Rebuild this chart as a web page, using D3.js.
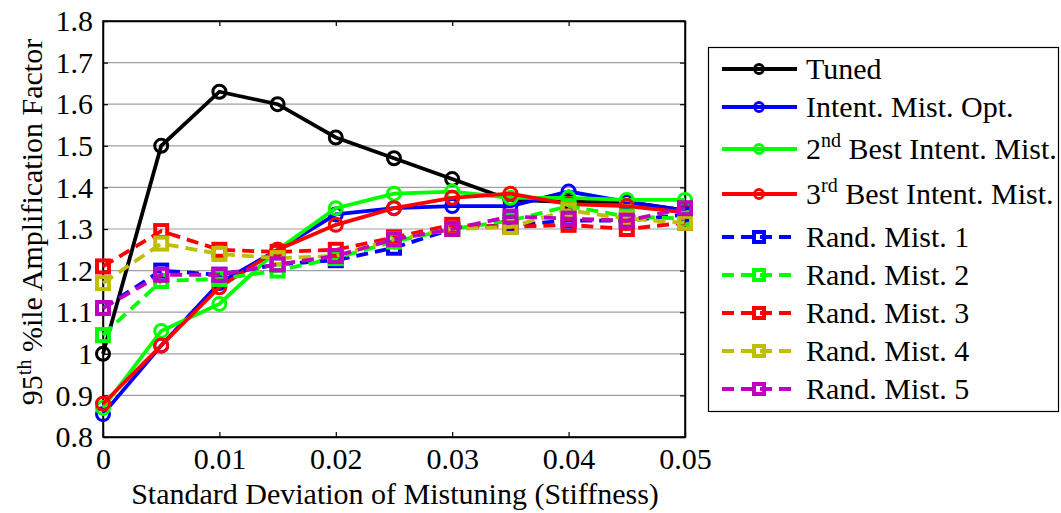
<!DOCTYPE html>
<html><head><meta charset="utf-8">
<script src="https://cdn.jsdelivr.net/npm/d3@7"></script>
<style>body{margin:0;background:#fff}svg{display:block}svg text{font-family:"Liberation Serif","Times New Roman",serif !important;fill:#000}</style>
</head><body><div id="c"></div>
<script>
const xValues = [0,0.005,0.01,0.015,0.02,0.025,0.03,0.035,0.04,0.045,0.05];
const tuned      = [1.00,1.50,1.63,1.60,1.52,1.47,1.42,1.37,1.365,1.365,1.345];
const intentOpt  = [0.855,1.02,1.17,1.25,1.335,1.35,1.355,1.355,1.39,1.365,1.345];
const best2      = [0.87,1.055,1.12,1.25,1.35,1.385,1.39,1.375,1.375,1.37,1.37];
const best3      = [0.88,1.02,1.16,1.25,1.31,1.35,1.375,1.385,1.36,1.355,1.34];
const rand1      = [1.11,1.20,1.19,1.215,1.225,1.255,1.30,1.31,1.32,1.32,1.335];
const rand2      = [1.045,1.175,1.18,1.20,1.23,1.27,1.30,1.32,1.355,1.33,1.325];
const rand3      = [1.21,1.295,1.25,1.245,1.25,1.28,1.31,1.305,1.31,1.30,1.315];
const rand4      = [1.17,1.265,1.24,1.23,1.235,1.275,1.30,1.305,1.345,1.325,1.315];
const rand5      = [1.11,1.19,1.19,1.215,1.235,1.275,1.30,1.33,1.325,1.32,1.35];
const seriesNames = [["Tuned"],["Intent. Mist. Opt."],["2","nd"," Best Intent. Mist."],["3","rd"," Best Intent. Mist."],["Rand. Mist. 1"],["Rand. Mist. 2"],["Rand. Mist. 3"],["Rand. Mist. 4"],["Rand. Mist. 5"]];
const xTicks = [0,0.01,0.02,0.03,0.04,0.05];
const xTickLabels = ["0","0.01","0.02","0.03","0.04","0.05"];
const yTicks = [0.8,0.9,1,1.1,1.2,1.3,1.4,1.5,1.6,1.7,1.8];
const yTickLabels = ["0.8","0.9","1","1.1","1.2","1.3","1.4","1.5","1.6","1.7","1.8"];
const xTitle = "Standard Deviation of Mistuning (Stiffness)";

const series = [
  {v:tuned, c:"#000000", m:"circle", d:false},
  {v:intentOpt, c:"#0000ff", m:"circle", d:false},
  {v:best2, c:"#00ff00", m:"circle", d:false},
  {v:best3, c:"#ff0000", m:"circle", d:false},
  {v:rand1, c:"#0000ff", m:"square", d:true},
  {v:rand2, c:"#00ff00", m:"square", d:true},
  {v:rand3, c:"#ff0000", m:"square", d:true},
  {v:rand4, c:"#bfbf00", m:"square", d:true},
  {v:rand5, c:"#bf00bf", m:"square", d:true}
];

const W=1061,H=513;
const L=103,T=21,R=685,B=437;
const svg=d3.select("#c").append("svg").attr("width",W).attr("height",H);
const x=d3.scaleLinear().domain([0,0.05]).range([L,R]);
const y=d3.scaleLinear().domain([0.8,1.8]).range([B,T]);

// grid
svg.append("g").selectAll("line").data(yTicks).join("line")
  .attr("x1",L).attr("x2",R).attr("y1",d=>y(d)).attr("y2",d=>y(d))
  .attr("stroke","#a0a0a0").attr("stroke-width",1.2);

// axes
const fs=30;
const ax=svg.append("g").attr("transform",`translate(0,${B})`)
  .call(d3.axisBottom(x).tickValues(xTicks).tickFormat((d,i)=>xTickLabels[i]).tickSizeInner(-5).tickSizeOuter(0).tickPadding(11));
ax.attr("font-family",null).selectAll("text").attr("font-size",fs);
const ay=svg.append("g").attr("transform",`translate(${L},0)`)
  .call(d3.axisLeft(y).tickValues(yTicks).tickFormat((d,i)=>yTickLabels[i]).tickSizeInner(-5).tickSizeOuter(0).tickPadding(10));
ay.attr("font-family",null).selectAll("text").attr("font-size",fs);
svg.append("g").attr("transform",`translate(0,${T})`)
  .call(d3.axisTop(x).tickValues(xTicks).tickFormat("").tickSizeInner(-5).tickSizeOuter(0));
svg.append("g").attr("transform",`translate(${R},0)`)
  .call(d3.axisRight(y).tickValues(yTicks).tickFormat("").tickSizeInner(-5).tickSizeOuter(0));
svg.selectAll(".domain").attr("stroke","#000").attr("stroke-width",1.5);
svg.selectAll(".tick line").attr("stroke","#000").attr("stroke-width",1.2);
svg.append("rect").attr("x",L).attr("y",T).attr("width",R-L).attr("height",B-T)
  .attr("fill","none").attr("stroke","#000").attr("stroke-width",1.5);

// lines
const line=d3.line().x((d,i)=>x(xValues[i])).y(d=>y(d));
function marker(g,m,c,cx,cy){
  if(m==="circle") g.append("circle").attr("cx",cx).attr("cy",cy).attr("r",6.5).attr("fill","none").attr("stroke",c).attr("stroke-width",3);
  else g.append("rect").attr("x",cx-6).attr("y",cy-6).attr("width",12).attr("height",12).attr("fill","none").attr("stroke",c).attr("stroke-width",4);
}
const pg=svg.append("g");
series.forEach(s=>{
  const g=pg.append("g");
  g.append("path").attr("d",line(s.v)).attr("fill","none").attr("stroke",s.c).attr("stroke-width",3.8)
    .attr("stroke-dasharray",s.d?"12,7":null);
  s.v.forEach((v,i)=>marker(g,s.m,s.c,x(xValues[i]),y(v)));
});

// axis titles
svg.append("text").attr("x",395).attr("y",504).attr("text-anchor","middle").attr("font-size",fs).text(xTitle);
const yt=svg.append("text").attr("transform","translate(42,222) rotate(-90)").attr("text-anchor","middle").attr("font-size",fs);
yt.append("tspan").text("95");
yt.append("tspan").attr("dy",-11).attr("font-size",20).text("th");
yt.append("tspan").attr("dy",11).text(" %ile Amplification Factor");

// legend
const lg=svg.append("g");
lg.append("rect").attr("x",708.5).attr("y",47.5).attr("width",350).attr("height",364).attr("fill","#fff").attr("stroke","#000").attr("stroke-width",1.2);
const rowY=[69,107,149,194,237,275,313,351,389];
series.forEach((s,i)=>{
  const ry=rowY[i];
  const g=lg.append("g");
  g.append("line").attr("x1",722).attr("x2",797).attr("y1",ry).attr("y2",ry).attr("stroke",s.c).attr("stroke-width",3.8).attr("stroke-dasharray",s.d?"12,7":null);
  if(s.m==="circle") g.append("circle").attr("cx",759).attr("cy",ry).attr("r",4.5).attr("fill","none").attr("stroke",s.c).attr("stroke-width",2.8);
  else g.append("rect").attr("x",754).attr("y",ry-5).attr("width",10).attr("height",10).attr("fill","none").attr("stroke",s.c).attr("stroke-width",4);
  const t=g.append("text").attr("x",806).attr("y",ry+10).attr("font-size",fs);
  const parts=seriesNames[i];
  if(parts.length===1) t.text(parts[0]);
  else{
    t.append("tspan").text(parts[0]);
    t.append("tspan").attr("dy",-12).attr("font-size",20).text(parts[1]);
    t.append("tspan").attr("dy",12).text(parts[2]);
  }
});
</script></body></html>
